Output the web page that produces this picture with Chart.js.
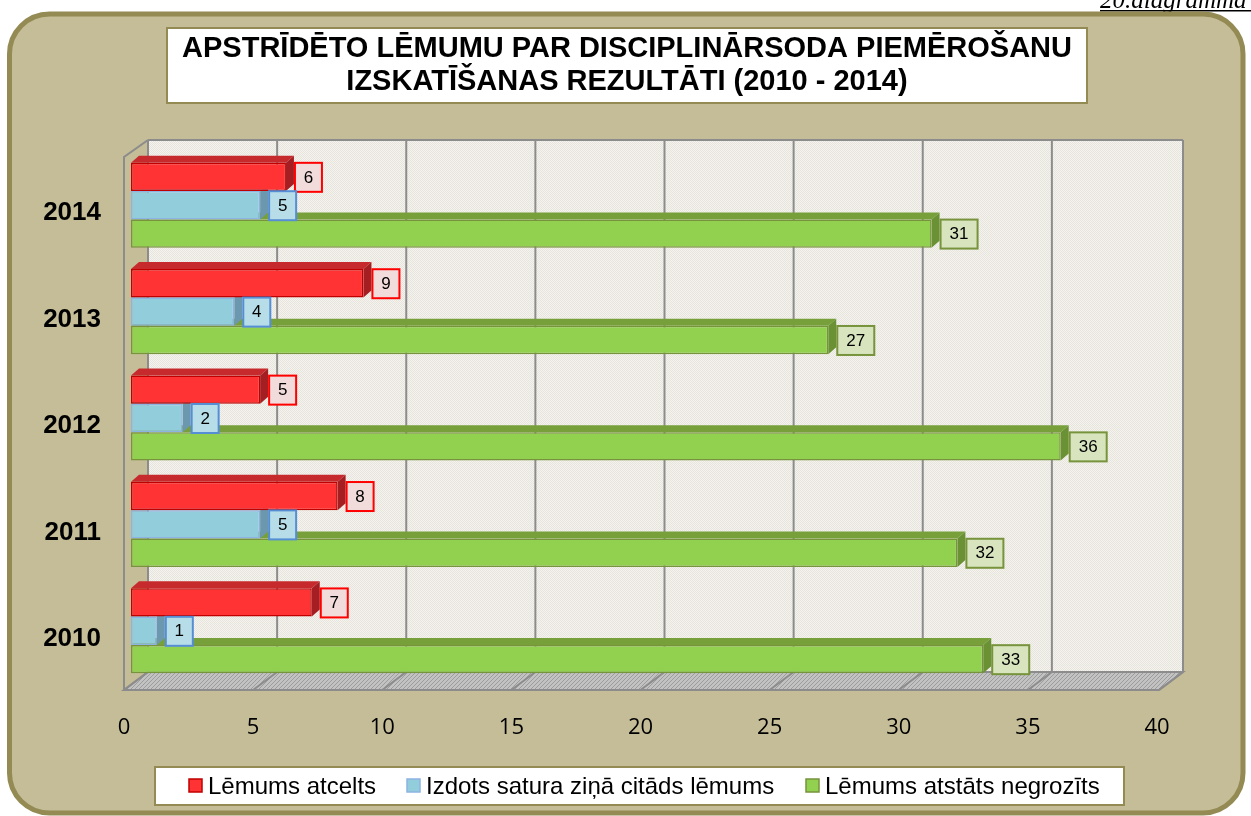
<!DOCTYPE html>
<html>
<head>
<meta charset="utf-8">
<script src="https://cdn.jsdelivr.net/npm/chart.js@4/dist/chart.umd.min.js"></script>
<style>
    html, body { margin: 0; padding: 0; background: #ffffff; }
    canvas { display: block; }
</style>
</head>
<body>
<canvas id="myChart" width="1251" height="816"></canvas>
<script>
let years = ['2014', '2013', '2012', '2011', '2010'];
let atcelts = [6, 9, 5, 8, 7];
let citads = [5, 4, 2, 5, 1];
let negrozits = [31, 27, 36, 32, 33];
let xTicks = [0, 5, 10, 15, 20, 25, 30, 35, 40];

let seriesNames = ['Lēmums atcelts', 'Izdots satura ziņā citāds lēmums', 'Lēmums atstāts negrozīts'];
let titleLines = ['APSTRĪDĒTO LĒMUMU PAR DISCIPLINĀRSODA PIEMĒROŠANU', 'IZSKATĪŠANAS REZULTĀTI (2010 - 2014)'];

// colours per series: front, border, top face, side face, label fill, label border
let styles = [
    { front: '#ff3333', border: '#c00000', top: '#c72a2d', side: '#a51f22', fill: '#f2dcdb', edge: '#ff0000' },
    { front: '#92cddc', border: '#8db3e2', top: '#7fb0c6', side: '#6b98ae', fill: '#b7dee8', edge: '#558ed5' },
    { front: '#92d050', border: '#77933c', top: '#77a03a', side: '#6a9234', fill: '#d7e4bd', edge: '#77933c' }
];

const depthX = 8, depthY = 7;

function makePattern(base, dot, size) {
    let c = document.createElement('canvas');
    c.width = size; c.height = size;
    let g = c.getContext('2d');
    g.fillStyle = base;
    g.fillRect(0, 0, size, size);
    g.fillStyle = dot;
    for (let i = 0; i < size; i++) {
        for (let j = 0; j < size; j++) {
            if ((i + j) % 2 === 0) g.fillRect(i, j, 1, 1);
        }
    }
    return c;
}

function makeFloorPattern() {
    let c = document.createElement('canvas');
    c.width = 4; c.height = 4;
    let g = c.getContext('2d');
    g.fillStyle = '#c2c2c2';
    g.fillRect(0, 0, 4, 4);
    g.fillStyle = '#9c9c9c';
    for (let i = 0; i < 4; i++) g.fillRect(i, 3 - i, 1, 1);
    return c;
}

function roundRect(ctx, x, y, w, h, r) {
    ctx.beginPath();
    ctx.moveTo(x + r, y);
    ctx.lineTo(x + w - r, y);
    ctx.arcTo(x + w, y, x + w, y + r, r);
    ctx.lineTo(x + w, y + h - r);
    ctx.arcTo(x + w, y + h, x + w - r, y + h, r);
    ctx.lineTo(x + r, y + h);
    ctx.arcTo(x, y + h, x, y + h - r, r);
    ctx.lineTo(x, y + r);
    ctx.arcTo(x, y, x + r, y, r);
    ctx.closePath();
}

let backgroundPlugin = {
    id: 'background3d',
    beforeDraw: function (chart) {
        let ctx = chart.ctx;
        let xs = chart.scales.x;
        let area = chart.chartArea;
        ctx.save();
        ctx.fillStyle = '#ffffff';
        ctx.fillRect(0, 0, chart.width, chart.height);

        // caption in the top right corner
        ctx.fillStyle = '#000000';
        ctx.font = 'italic 25px "Liberation Serif"';
        ctx.textBaseline = 'alphabetic';
        ctx.textAlign = 'left';
        ctx.fillText('20.diagramma', 1100, 8);
        ctx.fillRect(1100, 10, 151, 1.5);

        // outer frame
        roundRect(ctx, 9.5, 14, 1233.5, 799, 40);
        ctx.fillStyle = '#c4bd97';
        ctx.fill();
        ctx.lineWidth = 5;
        ctx.strokeStyle = '#948a54';
        ctx.stroke();

        // title box
        ctx.fillStyle = '#ffffff';
        ctx.fillRect(167, 28, 920, 75);
        ctx.lineWidth = 2;
        ctx.strokeStyle = '#948a54';
        ctx.strokeRect(167, 28, 920, 75);
        ctx.fillStyle = '#000000';
        ctx.font = 'bold 29px "Liberation Sans"';
        ctx.textAlign = 'center';
        ctx.textBaseline = 'middle';
        ctx.fillText(titleLines[0], 627, 49);
        ctx.fillText(titleLines[1], 627, 82);

        // walls
        let backTop = area.top - 12, backBottom = area.bottom - 12, frontBottom = area.bottom + 6;
        let x0 = xs.getPixelForValue(0), x40 = xs.getPixelForValue(40);

        ctx.fillStyle = ctx.createPattern(makePattern('#f4f3ee', '#e6e4dc', 4), 'repeat');
        ctx.fillRect(x0 + 17, backTop, x40 - x0 + 2, backBottom - backTop);

        ctx.beginPath();
        ctx.moveTo(x0 - 7, frontBottom);
        ctx.lineTo(x40 - 5, frontBottom);
        ctx.lineTo(x40 + 19, backBottom);
        ctx.lineTo(x0 + 17, backBottom);
        ctx.closePath();
        ctx.fillStyle = ctx.createPattern(makeFloorPattern(), 'repeat');
        ctx.fill();
        ctx.lineWidth = 2;
        ctx.strokeStyle = '#8c8c8c';
        ctx.stroke();

        // grid lines on the back wall and floor
        ctx.lineWidth = 2;
        ctx.strokeStyle = '#8c8c8c';
        xTicks.forEach(function (v) {
            let px = xs.getPixelForValue(v);
            if (v === 40) px += 2;
            ctx.beginPath();
            ctx.moveTo(px + 17, backTop);
            ctx.lineTo(px + 17, backBottom);
            ctx.moveTo(px + 17, backBottom);
            ctx.lineTo(px - 7, frontBottom);
            ctx.stroke();
        });
        ctx.beginPath();
        ctx.moveTo(x0 + 17, backTop);
        ctx.lineTo(x40 + 19, backTop);
        ctx.stroke();

        // left side wall edge
        ctx.beginPath();
        ctx.moveTo(x0 - 7, frontBottom);
        ctx.lineTo(x0 - 7, backTop + 17);
        ctx.lineTo(x0 + 17, backTop);
        ctx.stroke();
        ctx.restore();
    },
    beforeDatasetsDraw: function (chart) {
        let ctx = chart.ctx;
        ctx.save();
        for (let i = 0; i < years.length; i++) {
            for (let d = chart.data.datasets.length - 1; d >= 0; d--) {
                let bar = chart.getDatasetMeta(d).data[i];
                let st = styles[d];
                let h = bar.height;
                let x0 = bar.base, x1 = bar.x;
                let yt = bar.y - h / 2, yb = bar.y + h / 2;
                ctx.beginPath();
                ctx.moveTo(x0, yt);
                ctx.lineTo(x0 + depthX, yt - depthY);
                ctx.lineTo(x1 + depthX, yt - depthY);
                ctx.lineTo(x1, yt);
                ctx.closePath();
                ctx.fillStyle = st.top;
                ctx.fill();
                ctx.beginPath();
                ctx.moveTo(x1, yt);
                ctx.lineTo(x1 + depthX, yt - depthY);
                ctx.lineTo(x1 + depthX, yb - depthY);
                ctx.lineTo(x1, yb);
                ctx.closePath();
                ctx.fillStyle = st.side;
                ctx.fill();
            }
        }
        ctx.restore();
    },
    afterDatasetsDraw: function (chart) {
        let ctx = chart.ctx;
        ctx.save();
        ctx.font = '17px "Liberation Sans"';
        ctx.textAlign = 'center';
        ctx.textBaseline = 'middle';
        chart.data.datasets.forEach(function (ds, d) {
            let st = styles[d];
            chart.getDatasetMeta(d).data.forEach(function (bar, i) {
                let text = String(ds.data[i]);
                let w = text.length > 1 ? 37 : 27;
                let bx = bar.x + depthX + 1;
                let by = bar.y - 14;
                ctx.fillStyle = st.fill;
                ctx.fillRect(bx, by, w, 29);
                ctx.lineWidth = 2;
                ctx.strokeStyle = st.edge;
                ctx.strokeRect(bx, by, w, 29);
                ctx.fillStyle = '#000000';
                ctx.fillText(text, bx + w / 2, bar.y + 1);
            });
        });
        ctx.restore();
    },
    afterDraw: function (chart) {
        let ctx = chart.ctx;
        ctx.save();
        ctx.fillStyle = '#ffffff';
        ctx.fillRect(155, 767, 969, 38);
        ctx.lineWidth = 2;
        ctx.strokeStyle = '#948a54';
        ctx.strokeRect(155, 767, 969, 38);
        let itemX = [189, 407, 806];
        ctx.font = '24px "Liberation Sans"';
        ctx.textAlign = 'left';
        ctx.textBaseline = 'middle';
        chart.data.datasets.forEach(function (ds, d) {
            ctx.fillStyle = styles[d].front;
            ctx.fillRect(itemX[d], 779, 13, 13);
            ctx.lineWidth = 1.5;
            ctx.strokeStyle = styles[d].border;
            ctx.strokeRect(itemX[d], 779, 13, 13);
            ctx.fillStyle = '#000000';
            ctx.fillText(ds.label, itemX[d] + 19, 787);
        });
        ctx.restore();
    }
};

let myData = {
    labels: years,
    datasets: [
        { label: seriesNames[0], data: atcelts },
        { label: seriesNames[1], data: citads },
        { label: seriesNames[2], data: negrozits }
    ].map(function (ds, d) {
        ds.backgroundColor = styles[d].front;
        ds.borderColor = styles[d].border;
        ds.borderWidth = 1.5;
        ds.borderSkipped = false;
        ds.categoryPercentage = 0.8;
        ds.barPercentage = 1.0;
        return ds;
    })
};

let myOption = {
    indexAxis: 'y',
    responsive: false,
    devicePixelRatio: 1,
    animation: false,
    layout: {
        padding: { top: 152, bottom: 70, left: 0, right: 87 }
    },
    plugins: {
        legend: { display: false },
        tooltip: { enabled: false },
        title: { display: false }
    },
    scales: {
        x: {
            min: 0,
            max: 40,
            afterBuildTicks: function (scale) {
                scale.ticks = xTicks.map(function (v) { return { value: v }; });
            },
            afterFit: function (scale) { scale.height = 62; },
            grid: { display: false, drawTicks: false },
            border: { display: false },
            ticks: {
                color: '#000000',
                font: { family: '"Open Sans"', size: 22 },
                padding: 31,
                labelOffset: -7
            }
        },
        y: {
            afterFit: function (scale) { scale.width = 131; },
            grid: { display: false, drawTicks: false },
            border: { display: false },
            ticks: {
                color: '#000000',
                font: { family: '"Liberation Sans"', size: 26, weight: 'bold' },
                padding: 30,
                labelOffset: 8
            }
        }
    }
};

let ctx = document.getElementById('myChart').getContext('2d');
let myChart = new Chart(ctx, {
    type: 'bar',
    data: myData,
    options: myOption,
    plugins: [backgroundPlugin]
});
</script>
</body>
</html>
